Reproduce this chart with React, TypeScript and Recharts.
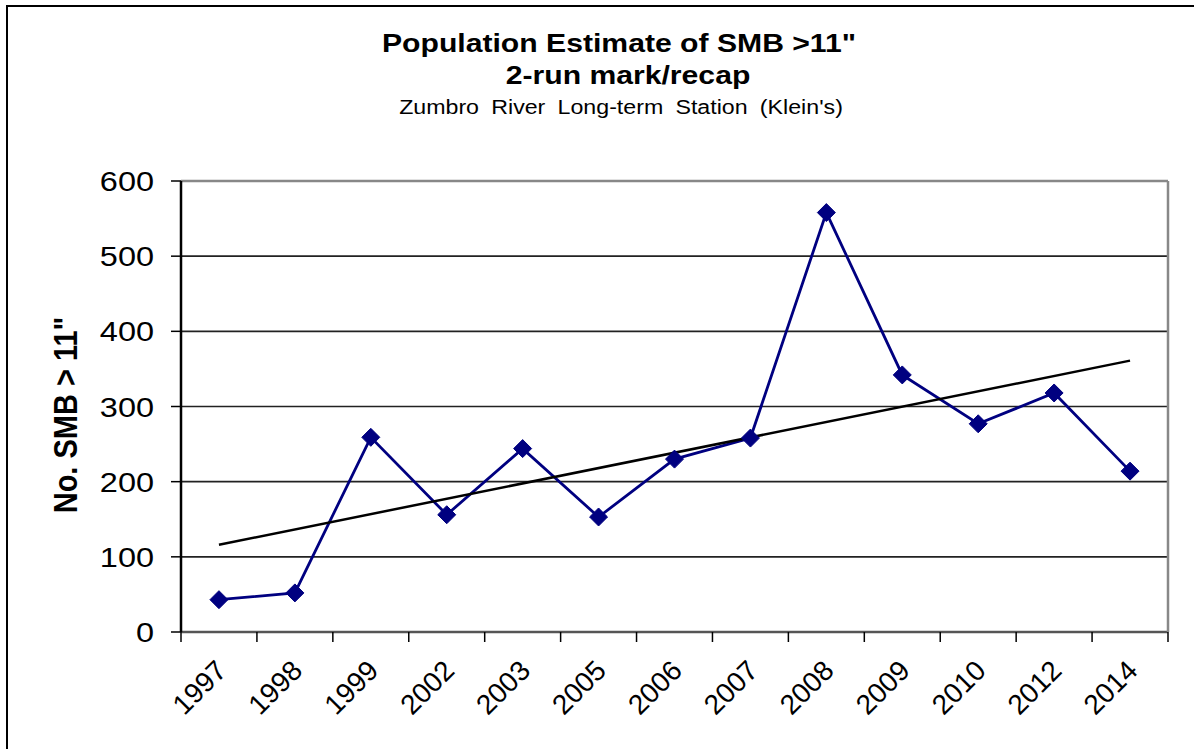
import React from 'react';
import { LineChart, Line, XAxis, YAxis, CartesianGrid } from 'recharts';

const years = ['1997', '1998', '1999', '2002', '2003', '2005', '2006', '2007', '2008', '2009', '2010', '2012', '2014'];
const smbCounts = [43, 52, 259, 156, 244, 153, 230, 258, 558, 342, 277, 318, 214];
const trendStart = 116;
const trendEnd = 361;
const yTicks = [0, 100, 200, 300, 400, 500, 600];

const W = 1194;
const H = 749;
const PLOT_LEFT = 181;
const PLOT_RIGHT = 1168;
const PLOT_TOP = 181;
const PLOT_BOTTOM = 632;
const Y_AXIS_W = 100;
const X_AXIS_H = 60;
const EDGE = 1;
const HALF_BAND = (PLOT_RIGHT - PLOT_LEFT) / years.length / 2;
const SX = 1.16;

const data = years.map((year, i) => ({
  idx: i,
  year,
  value: smbCounts[i],
  trend: i === 0 ? trendStart : i === years.length - 1 ? trendEnd : null,
}));

const boundaryTicks = years.map((_, i) => i - 0.5).concat([years.length - 0.5]);

const FONT = 'Arial, "Liberation Sans", sans-serif';

const XTick = (props: any) => {
  const { x, y, payload } = props;
  const i = Math.round(payload.value + 0.5);
  if (i < 0 || i >= years.length) return <g />;
  const ax = x + HALF_BAND - 5;
  const ay = y;
  return (
    <text
      x={ax}
      y={ay}
      dy="0.72em"
      transform={`rotate(-45, ${ax}, ${ay})`}
      textAnchor="end"
      fontSize={28}
      fontFamily={FONT}
      fill="#000"
    >
      {years[i]}
    </text>
  );
};

const YTick = (props: any) => {
  const { x, y, payload } = props;
  return (
    <text
      x={0}
      y={0}
      dy="0.36em"
      transform={`translate(${x}, ${y}) scale(${SX}, 1)`}
      textAnchor="end"
      fontSize={28}
      fontFamily={FONT}
      fill="#000"
    >
      {payload.value}
    </text>
  );
};

const Diamond = (props: any) => {
  const { cx, cy } = props;
  if (cx == null || cy == null) return <g />;
  const r = 9;
  return (
    <polygon
      points={`${cx},${cy - r} ${cx + r},${cy} ${cx},${cy + r} ${cx - r},${cy}`}
      fill="#000080"
      stroke="#000080"
      strokeWidth={1}
    />
  );
};

export default function App() {
  return (
    <div style={{ position: 'absolute', left: 0, top: 0, width: W, height: H, background: '#fff', fontFamily: FONT }}>
      <div
        style={{
          position: 'absolute',
          left: 6,
          top: 5,
          width: W - 6,
          height: H - 5,
          borderLeft: '2px solid #000',
          borderTop: '2px solid #000',
          boxSizing: 'border-box',
        }}
      />
      <div style={{ position: 'absolute', left: 0, top: 0 }}>
        <LineChart
          width={W}
          height={H}
          data={data}
          margin={{
            top: PLOT_TOP - EDGE,
            right: W - PLOT_RIGHT - EDGE,
            bottom: H - PLOT_BOTTOM - X_AXIS_H,
            left: PLOT_LEFT - Y_AXIS_W,
          }}
        >
          <CartesianGrid vertical={false} stroke="#222" strokeWidth={1.6} />
          <XAxis
            dataKey="idx"
            type="number"
            domain={[-0.5, years.length - 0.5]}
            ticks={boundaryTicks}
            interval={0}
            height={X_AXIS_H}
            tickSize={10}
            tickMargin={16}
            tick={<XTick />}
            axisLine={{ stroke: '#555', strokeWidth: 2.5 }}
            tickLine={{ stroke: '#000', strokeWidth: 1.5 }}
            allowDecimals
          />
          <XAxis
            xAxisId="top"
            orientation="top"
            dataKey="idx"
            type="number"
            domain={[-0.5, years.length - 0.5]}
            height={EDGE}
            tick={false}
            tickLine={false}
            axisLine={{ stroke: '#888', strokeWidth: 2.5 }}
          />
          <YAxis
            domain={[0, 600]}
            ticks={yTicks}
            width={Y_AXIS_W}
            tickSize={10}
            tickMargin={17}
            tick={<YTick />}
            axisLine={{ stroke: '#000', strokeWidth: 2.5 }}
            tickLine={{ stroke: '#000', strokeWidth: 1.5 }}
          />
          <YAxis
            yAxisId="right"
            orientation="right"
            domain={[0, 600]}
            width={EDGE}
            tick={false}
            tickLine={false}
            axisLine={{ stroke: '#888', strokeWidth: 2.5 }}
          />
          <Line
            dataKey="value"
            stroke="#000080"
            strokeWidth={2.8}
            dot={<Diamond />}
            activeDot={false}
            isAnimationActive={false}
          />
          <Line
            dataKey="trend"
            stroke="#000"
            strokeWidth={2.5}
            dot={false}
            activeDot={false}
            connectNulls
            isAnimationActive={false}
          />
        </LineChart>
      </div>
      <svg
        width={W}
        height={H}
        style={{ position: 'absolute', left: 0, top: 0, pointerEvents: 'none' }}
        fontFamily={FONT}
      >
        <text x={0} y={0} transform={`translate(619, 52) scale(${SX}, 1)`} textAnchor="middle" fontSize={26} fontWeight="bold" fill="#000">
          Population Estimate of SMB &gt;11"
        </text>
        <text x={0} y={0} transform={`translate(628, 84) scale(${SX}, 1)`} textAnchor="middle" fontSize={26} fontWeight="bold" fill="#000">
          2-run mark/recap
        </text>
        <text x={0} y={0} transform={`translate(621, 114) scale(${SX}, 1)`} textAnchor="middle" fontSize={20} fill="#000" style={{ wordSpacing: 5 }}>
          Zumbro River Long-term Station (Klein's)
        </text>
        <text
          x={0}
          y={0}
          textAnchor="middle"
          fontSize={29}
          fontWeight="bold"
          fill="#000"
          transform={`translate(77, 415) rotate(-90) scale(1, ${SX})`}
        >
          No. SMB &gt; 11"
        </text>
      </svg>
    </div>
  );
}
